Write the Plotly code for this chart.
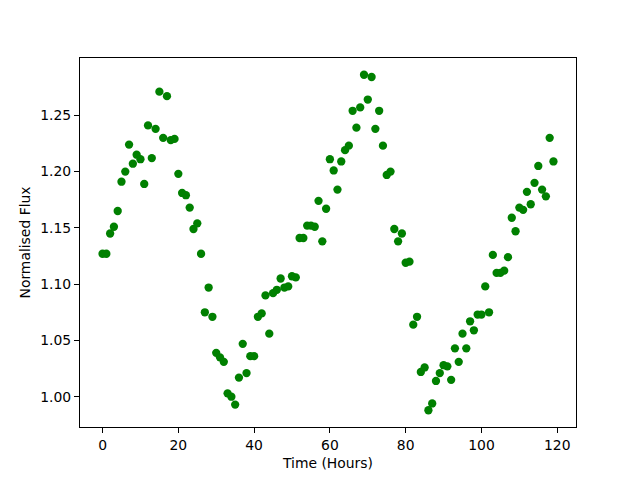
import plotly.graph_objects as go

time_hours = list(range(120))
flux = [
    1.127, 1.127, 1.145, 1.151, 1.165, 1.191, 1.200, 1.224, 1.207, 1.215,
    1.211, 1.189, 1.241, 1.212, 1.238, 1.271, 1.230, 1.267, 1.228, 1.229,
    1.198, 1.181, 1.179, 1.168, 1.149, 1.154, 1.127, 1.075, 1.097, 1.071,
    1.039, 1.035, 1.031, 1.003, 1.000, 0.993, 1.017, 1.047, 1.021, 1.036,
    1.036, 1.071, 1.074, 1.090, 1.056, 1.092, 1.095, 1.105, 1.097, 1.098,
    1.107, 1.106, 1.141, 1.141, 1.152, 1.152, 1.151, 1.174, 1.138, 1.167,
    1.211, 1.201, 1.184, 1.209, 1.219, 1.223, 1.254, 1.239, 1.257, 1.286,
    1.264, 1.284, 1.238, 1.254, 1.223, 1.197, 1.200, 1.149, 1.138, 1.145,
    1.119, 1.120, 1.064, 1.071, 1.022, 1.026, 0.988, 0.994, 1.014, 1.021,
    1.028, 1.027, 1.015, 1.043, 1.031, 1.056, 1.043, 1.067, 1.059, 1.073,
    1.073, 1.098, 1.075, 1.126, 1.110, 1.110, 1.112, 1.124, 1.159, 1.147,
    1.168, 1.166, 1.182, 1.171, 1.190, 1.205, 1.184, 1.178, 1.230, 1.209,
]

xticks = [0, 20, 40, 60, 80, 100, 120]
yticks = [1.00, 1.05, 1.10, 1.15, 1.20, 1.25]

fig = go.Figure()
fig.add_trace(go.Scatter(
    x=time_hours, y=flux, mode="markers",
    marker=dict(color="#008000", size=8.3, line=dict(width=0)),
    showlegend=False,
))

xspan = max(time_hours) - min(time_hours)
yspan = max(flux) - min(flux)
axis_common = dict(
    showline=True, mirror=True, linecolor="black", linewidth=1,
    ticks="outside", ticklen=5, tickwidth=1, tickcolor="black",
    showgrid=False, zeroline=False,
    tickfont=dict(family="DejaVu Sans", size=13.9, color="black"),
)
fig.update_layout(
    width=640, height=480,
    margin=dict(l=72, r=72, t=50, b=61),
    paper_bgcolor="white", plot_bgcolor="white",
    xaxis=dict(
        range=[min(time_hours) - 0.05 * xspan, max(time_hours) + 0.05 * xspan],
        tickvals=xticks, ticktext=[str(v) for v in xticks],
        title=dict(text="Time (Hours)", standoff=6,
                   font=dict(family="DejaVu Sans", size=13.9, color="black")),
        **axis_common,
    ),
    yaxis=dict(
        range=[min(flux) - 0.05 * yspan, max(flux) + 0.05 * yspan],
        tickvals=yticks, ticktext=[f"{v:.2f}" for v in yticks],
        title=dict(text="Normalised Flux", standoff=6,
                   font=dict(family="DejaVu Sans", size=13.9, color="black")),
        **axis_common,
    ),
)

fig.write_html("out.html")
